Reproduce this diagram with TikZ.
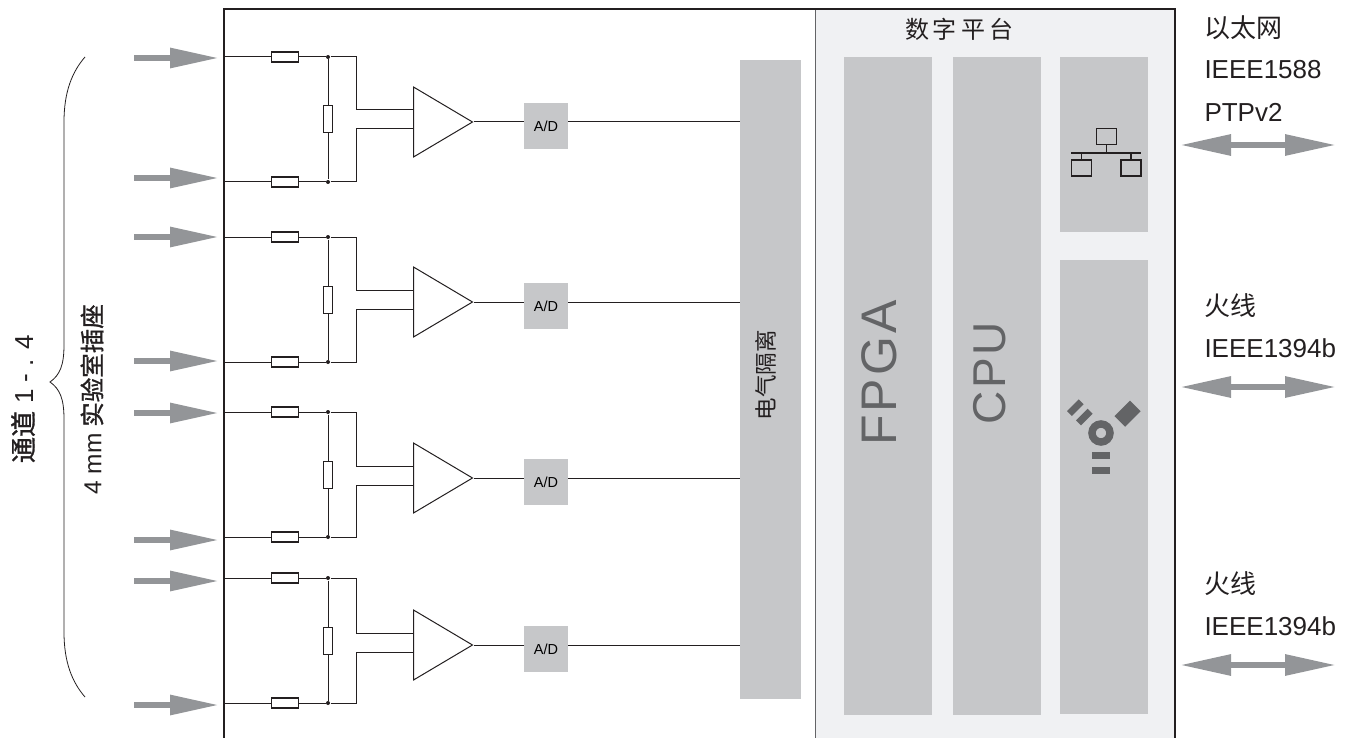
\documentclass[tikz,border=0pt]{standalone}
\usepackage{fontspec}
\setmainfont{Liberation Sans}
\newfontfamily\cjk{Noto Sans CJK SC}
\newfontfamily\cjkheavy[FakeBold=1.2]{Noto Sans CJK SC}
\newfontfamily\widefont[LetterSpace=6]{Liberation Sans}
\usetikzlibrary{arrows.meta, shapes.geometric}
\definecolor{cframe}{HTML}{231F20}
\definecolor{cplat}{HTML}{F0F1F3}
\definecolor{cblock}{HTML}{C6C7C9}
\definecolor{carrow}{HTML}{939598}
\definecolor{cicon}{HTML}{636466}
\tikzset{
  every picture/.style={line width=1pt},
  block/.style={fill=cblock, inner sep=0pt, anchor=north west},
  res/.style={draw=cframe, fill=white, line width=1.3pt, inner sep=0pt},
  wire/.style={draw=cframe, line width=1pt},
  dot/.style={circle, fill=cframe, inner sep=0pt, minimum size=4pt},
  amp/.style={isosceles triangle, isosceles triangle stretches, draw=cframe, fill=white, inner sep=0pt,
    minimum width=70pt, minimum height=59pt, anchor=west, line width=1pt},
  inarrow/.style={draw=carrow, line width=6pt, -{Triangle[length=49pt, width=19pt]}},
  both/.style={draw=carrow, line width=6pt, {Triangle[length=51pt, width=20pt]}-{Triangle[length=51pt, width=20pt]}},
  label/.style={font=\fontsize{26}{26}\selectfont, text=cframe, anchor=west, inner sep=0pt},
  netbox/.style={draw=cframe, line width=1.8pt, inner sep=0pt, minimum width=20pt, minimum height=16pt},
  wirebar/.style={fill=cicon, inner sep=0pt},
}
\begin{document}
\begin{tikzpicture}[x=1pt, y=-1pt]
  \useasboundingbox (0,0) rectangle (1348,738);
  % digital platform
  \node[fill=cplat, inner sep=0pt, anchor=north west, minimum width=360pt, minimum height=729pt] (plat) at (815,9) {};
  \draw[draw=cicon, line width=1pt] (plat.north west) -- (plat.south west);
  \draw[draw=cframe, line width=2.4pt] (224,738) |- (1175,9) -- (1175,738);
  \node[block, minimum width=61pt, minimum height=638pt] (iso) at (739.5,60) {};
  \node[rotate=90, text=cframe, font=\cjk\fontsize{22.5}{22.5}\selectfont] (isotext) at (766,375) {电气隔离};
  \node[block, minimum width=88pt, minimum height=657pt] (fpga) at (843.5,57) {};
  \node[block, minimum width=88pt, minimum height=657pt] (cpu) at (952.5,57) {};
  \node[block, minimum width=88pt, minimum height=175pt] (net) at (1059.5,56.5) {};
  \node[block, minimum width=88pt, minimum height=454pt] (fire) at (1059.5,259.5) {};
  \node[rotate=90, text=cicon, font=\widefont\fontsize{50}{50}\selectfont] (fpgatext) at (879,373) {FPGA};
  \node[rotate=90, text=cicon, font=\widefont\fontsize{46}{46}\selectfont] (cputext) at (990,373.5) {CPU};
  \node[font=\cjk\fontsize{24}{24}\selectfont, text=cframe] (plattext) at (959,29) {数\,字\,平\,台};
  % channels
  \foreach \n/\yt/\yb/\ym/\aa/\ab in {1/57/182/122/58/178, 2/237/362/302/237/361, 3/412/537/478/413/540, 4/578/703/645/581/705} {
    \coordinate (ft\n) at (224,\yt);
    \coordinate (fb\n) at (224,\yb);
    \node[dot] (jt\n) at (328,\yt) {};
    \node[dot] (jb\n) at (328,\yb) {};
    \draw[wire] (ft\n) -- (jt\n) -- (356,\yt) |- (413,{\ym-12});
    \draw[wire] (fb\n) -- (jb\n) -- (356,\yb) |- (413,{\ym+7});
    \draw[wire] (jt\n) -- (jb\n);
    \node[res, minimum width=27pt, minimum height=10pt] (rt\n) at (285,\yt) {};
    \node[res, minimum width=27pt, minimum height=10pt] (rb\n) at (285,\yb) {};
    \node[res, minimum width=9pt, minimum height=27pt, line width=1pt] (rm\n) at (328,{(\yt+\yb)/2}) {};
    \node[amp] (amp\n) at (413,\ym) {};
    \draw[wire] (amp\n.apex) -- (iso.west |- amp\n.apex);
    \node[fill=cblock, inner sep=0pt, minimum width=44pt, minimum height=46pt, font=\fontsize{14.5}{15}\selectfont] (ad\n) at (546,{\ym+4}) {A/D};
    \coordinate (as\n) at (134,\aa);
    \coordinate (ae\n) at (219,\aa);
    \draw[inarrow] (as\n) -- (ae\n);
    \coordinate (bs\n) at (134,\ab);
    \coordinate (be\n) at (219,\ab);
    \draw[inarrow] (bs\n) -- (be\n);
  }
  % brace and left labels
  \draw[draw=cframe, line width=0.8pt] (85,57) .. controls (72,72) and (64,92) .. (64,122) -- (64,345)
    .. controls (64,365) and (60,375) .. (50,382) .. controls (60,389) and (64,399) .. (64,419) -- (64,632)
    .. controls (64,662) and (72,682) .. (85,697);
  \node[rotate=90, text=cframe, font=\fontsize{26}{26}\selectfont] (chtext) at (23,399) {{\cjkheavy 通道} 1 - . 4};
  \node[rotate=90, text=cframe, font=\fontsize{24.5}{24.5}\selectfont] (socktext) at (92,399.5) {4 mm {\cjkheavy 实验室插座}};
  % right labels and arrows
  \node[label] (eth) at (1204,28) {\cjk 以太网};
  \node[label] (ptpa) at (1204,70) {IEEE1588};
  \node[label] (ptpb) at (1204,112) {PTPv2};
  \node[label] (fwa) at (1204,306) {\cjk 火线};
  \node[label] (fwb) at (1204,348) {IEEE1394b};
  \node[label] (fwc) at (1204,584) {\cjk 火线};
  \node[label] (fwd) at (1204,626) {IEEE1394b};
  \foreach \n/\y in {1/145, 2/387, 3/665} {
    \coordinate (pl\n) at (1180,\y);
    \coordinate (pr\n) at (1336,\y);
    \draw[both] (pl\n) -- (pr\n);
  }
  % network icon
  \node[netbox] (nettop) at (1106.5,136.5) {};
  \node[netbox] (netl) at (1081.5,168) {};
  \node[netbox] (netr) at (1131,168) {};
  \coordinate (busl) at (1071,153);
  \coordinate (busr) at (1141,153);
  \draw[draw=cframe, line width=1.8pt] (busl) -- (busr);
  \draw[draw=cframe, line width=1.8pt] (nettop.south) -- (nettop.south |- busl);
  \draw[draw=cframe, line width=1.8pt] (netl.north) -- (netl.north |- busl);
  \draw[draw=cframe, line width=1.8pt] (netr.north) -- (netr.north |- busl);
  % firewire icon
  \node[circle, draw=cicon, line width=7.5pt, inner sep=0pt, minimum size=18pt] (ring) at (1101,433) {};
  \node[wirebar, minimum width=18pt, minimum height=7pt] (bara) at (1101,455.5) {};
  \node[wirebar, minimum width=18pt, minimum height=7pt] (barb) at (1101,470.5) {};
  \node[wirebar, rotate=45, minimum width=16.5pt, minimum height=7pt] (barc) at (1075.3,407.7) {};
  \node[wirebar, rotate=45, minimum width=16.5pt, minimum height=7pt] (bard) at (1084.3,417) {};
  \node[wirebar, rotate=45, minimum width=22pt, minimum height=15pt] (diam) at (1127.5,413.7) {};
\end{tikzpicture}
\end{document}
